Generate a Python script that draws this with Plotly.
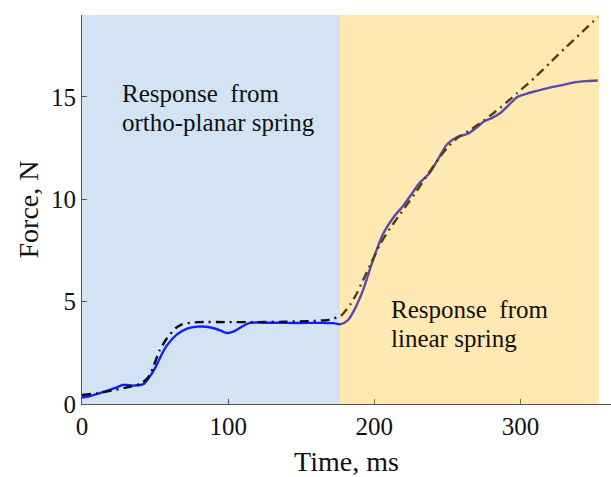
import plotly.graph_objects as go

# Measured force (solid) and model response (dash-dot) over time
t_meas = [0, 5, 10, 15, 20, 25, 28, 32, 36, 42, 46, 50, 53, 58, 65, 72, 79, 85, 90, 95, 99,
          104, 110, 115, 125, 140, 155, 165, 172, 177, 182, 186, 192, 199, 206, 213, 220,
          226, 231, 238, 244, 250, 257, 264, 270, 275, 280, 286, 292, 298, 304, 309, 316,
          323, 330, 336, 345, 353]
f_meas = [0.32, 0.38, 0.48, 0.6, 0.72, 0.85, 0.93, 0.92, 0.9, 0.97, 1.3, 1.75, 2.2, 2.85, 3.4,
          3.68, 3.78, 3.77, 3.7, 3.58, 3.47, 3.55, 3.8, 3.96, 3.97, 3.96, 3.96, 3.96, 3.95, 3.9,
          4.1, 4.55, 5.5, 7.0, 8.3, 9.1, 9.7, 10.3, 10.8, 11.3, 12.0, 12.7, 13.05, 13.2, 13.5,
          13.8, 13.95, 14.2, 14.6, 15.0, 15.15, 15.25, 15.38, 15.5, 15.6, 15.7, 15.77, 15.8]

t_model = [0, 10, 20, 30, 40, 44, 47, 53, 58, 64, 68, 72, 80, 100, 120, 140, 155, 168, 172,
           177, 183.5, 188, 192, 198, 204, 211, 218, 224, 229, 237, 245, 251, 257, 265, 273,
           281.5, 290, 298, 310, 320, 330, 342, 353]
f_model = [0.44, 0.52, 0.65, 0.8, 0.98, 1.2, 1.5, 2.6, 3.2, 3.7, 3.88, 3.95, 4.0, 4.0, 4.0,
           4.02, 4.05, 4.1, 4.18, 4.3, 4.85, 5.4, 6.0, 6.9, 7.8, 8.6, 9.3, 9.9, 10.4, 11.25,
           12.07, 12.6, 13.0, 13.35, 13.75, 14.2, 14.7, 15.2, 15.95, 16.65, 17.35, 18.15, 18.9]

x_range = [0, 362]
y_range = [0, 19]
phase_split = 176.5   # end of ortho-planar phase, ms
phase_end = 354       # end of linear-spring phase, ms

x_ticks = [0, 100, 200, 300]
y_ticks = [0, 5, 10, 15]

serif = "Liberation Serif"

fig = go.Figure()

fig.add_trace(go.Scatter(
    x=t_meas, y=f_meas, mode="lines", line=dict(color="rgb(20,30,250)", width=2.4, shape="spline", smoothing=0.8),
    showlegend=False, hoverinfo="skip"))
fig.add_trace(go.Scatter(
    x=t_model, y=f_model, mode="lines",
    line=dict(color="rgb(10,12,20)", width=2.4, dash="9px,5px,2px,5px", shape="spline", smoothing=0.6),
    showlegend=False, hoverinfo="skip"))

# Phase shading: blue behind the curves, translucent amber over them
fig.add_shape(type="rect", xref="x", yref="y", x0=0, x1=phase_split, y0=y_range[0], y1=y_range[1],
              fillcolor="rgb(211,227,243)", line_width=0, layer="below")
fig.add_shape(type="rect", xref="x", yref="y", x0=phase_split, x1=phase_end, y0=y_range[0], y1=y_range[1],
              fillcolor="rgb(255,180,0)", opacity=0.3, line_width=0, layer="above")

label_font = dict(family=serif, size=25, color="#111")
for text, x, y in [("Response  from", 26.0, 15.15), ("ortho-planar spring", 26.0, 13.75),
                   ("Response  from", 210.0, 4.6), ("linear spring", 210.0, 3.2)]:
    fig.add_annotation(x=x, y=y, xref="x", yref="y", text=text, showarrow=False,
                       xanchor="left", yanchor="middle", font=label_font)

fig.update_xaxes(
    range=x_range, tickvals=x_ticks, ticks="inside", ticklen=5, tickcolor="#555",
    showline=True, linecolor="#555", linewidth=1, showgrid=False, zeroline=False,
    tickfont=dict(family=serif, size=25, color="#111"),
    title=dict(text="Time, ms", font=dict(family=serif, size=28, color="#111"), standoff=12))
fig.update_yaxes(
    range=y_range, tickvals=y_ticks, ticks="inside", ticklen=5, tickcolor="#555",
    showline=True, linecolor="#555", linewidth=1, showgrid=False, zeroline=False,
    tickfont=dict(family=serif, size=25, color="#111"),
    title=dict(text="Force, N", font=dict(family=serif, size=28, color="#111"), standoff=4))

fig.update_layout(
    width=611, height=477, margin=dict(l=82, r=0, t=15, b=73),
    paper_bgcolor="white", plot_bgcolor="white")

fig.write_html("out.html")
